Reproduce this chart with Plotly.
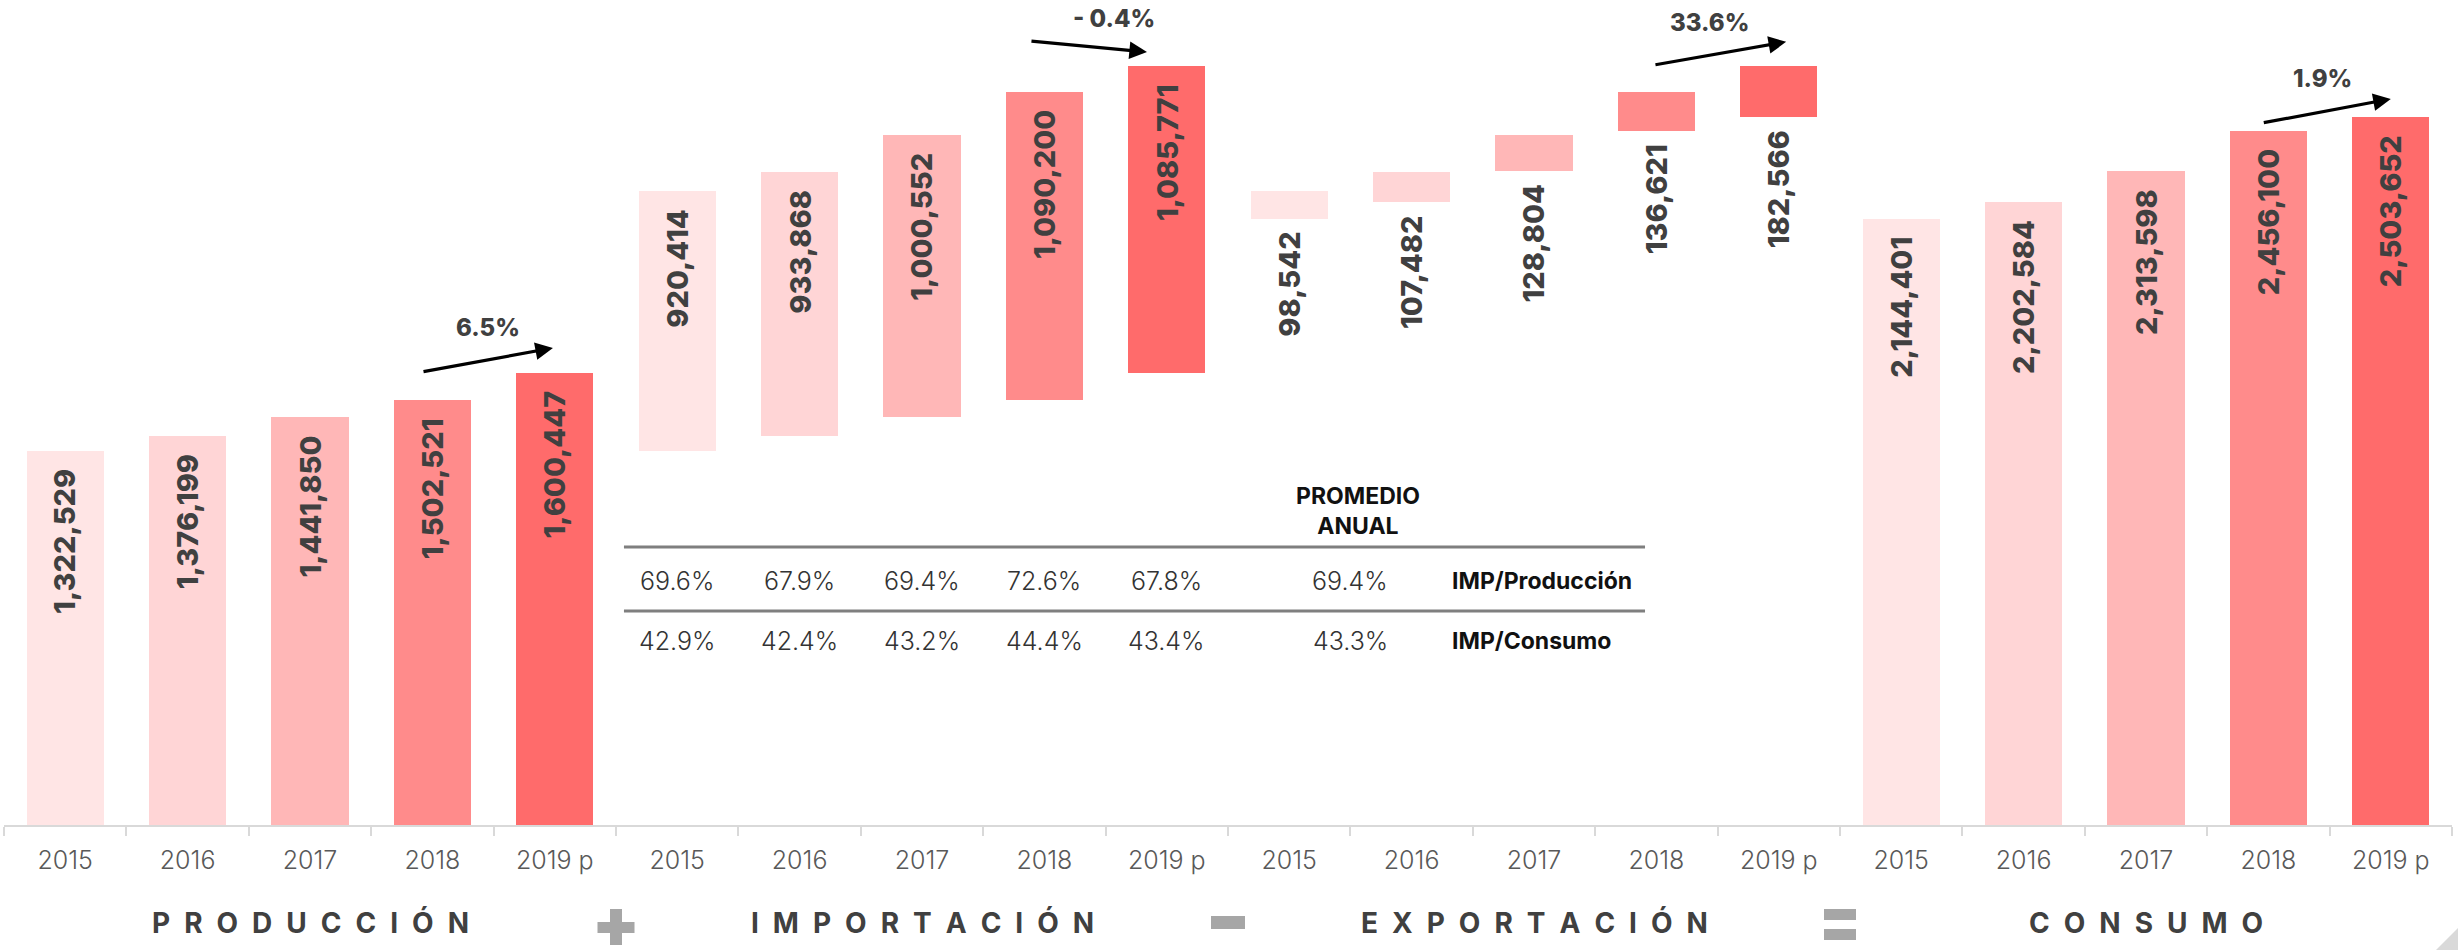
import plotly.graph_objects as go

# ---- data -----------------------------------------------------------------
years = ["2015", "2016", "2017", "2018", "2019 p"]
produccion = [1322529, 1376199, 1441850, 1502521, 1600447]
importacion = [920414, 933868, 1000552, 1090200, 1085771]
exportacion = [98542, 107482, 128804, 136621, 182566]
consumo = [2144401, 2202584, 2313598, 2456100, 2503652]

growth_labels = ["6.5%", "- 0.4%", "33.6%", "1.9%"]
group_titles = ["PRODUCCIÓN", "IMPORTACIÓN", "EXPORTACIÓN", "CONSUMO"]

imp_produccion = ["69.6%", "67.9%", "69.4%", "72.6%", "67.8%"]
imp_consumo = ["42.9%", "42.4%", "43.2%", "44.4%", "43.4%"]
promedio = ["69.4%", "43.3%"]
row_labels = ["IMP/Producción", "IMP/Consumo"]

# ---- styling ----------------------------------------------------------------
W, H = 2458, 950
M_L, M_R, M_T, M_B = 4, 6, 0, 125
PLOT_H = H - M_T - M_B
YMAX = 2.919e6
shades = ["#FFE5E5", "#FFD5D6", "#FFB7B7", "#FF8B8B", "#FF6B6B"]
DARK = "#404040"
FONT = "Inter, 'Open Sans', sans-serif"
BAR_W = 0.63
n = len(years)


def paper_y(px):
    """Vertical pixel position (from top of page) -> paper coordinate."""
    return (M_T + PLOT_H - px) / PLOT_H


def spaced(word):
    """Wide tracking for the block titles."""
    return "\u2002".join(word)


xs_prod = list(range(0, n))
xs_imp = list(range(n, 2 * n))
xs_exp = list(range(2 * n, 3 * n))
xs_con = list(range(3 * n, 4 * n))

gross = [p + i for p, i in zip(produccion, importacion)]
exp_base = [g - e for g, e in zip(gross, exportacion)]

fig = go.Figure()
fig.add_bar(x=xs_prod, y=produccion, base=[0] * n, width=BAR_W,
            marker=dict(color=shades, line=dict(width=0)))
fig.add_bar(x=xs_imp, y=importacion, base=produccion, width=BAR_W,
            marker=dict(color=shades, line=dict(width=0)))
fig.add_bar(x=xs_exp, y=exportacion, base=exp_base, width=BAR_W,
            marker=dict(color=shades, line=dict(width=0)))
fig.add_bar(x=xs_con, y=consumo, base=[0] * n, width=BAR_W,
            marker=dict(color=shades, line=dict(width=0)))

annotations = []
value_font = dict(family=FONT, size=29, color=DARK, weight=800)

# value labels inside the top of production, import and consumption bars
for xs, tops, vals in [(xs_prod, produccion, produccion),
                       (xs_imp, gross, importacion),
                       (xs_con, consumo, consumo)]:
    for x, top, v in zip(xs, tops, vals):
        annotations.append(dict(x=x, y=top, xref="x", yref="y",
                                text=f"{v:,}", textangle=-90, showarrow=False,
                                yanchor="top", xanchor="center", yshift=-16,
                                font=value_font))
# export labels hang below their bars
for x, b, v in zip(xs_exp, exp_base, exportacion):
    annotations.append(dict(x=x, y=b, xref="x", yref="y", text=f"{v:,}",
                            textangle=-90, showarrow=False, yanchor="top",
                            xanchor="center", yshift=-11, font=value_font))

# growth arrows between the last two years of each block
arrow_geom = [
    # tail x, tail y, tip x, tip y, label x, label y
    (2.915, 1.603e6, 3.985, 1.688e6, 3.454, 1.762e6),
    (7.882, 2.774e6, 8.838, 2.735e6, 8.569, 2.852e6),
    (12.98, 2.689e6, 14.06, 2.771e6, 13.43, 2.841e6),
    (17.95, 2.484e6, 19.00, 2.569e6, 18.44, 2.640e6),
]
for (tx, ty, hx, hy, lx, ly), lab in zip(arrow_geom, growth_labels):
    annotations.append(dict(x=hx, y=hy, ax=tx, ay=ty, xref="x", yref="y",
                            axref="x", ayref="y", text="", showarrow=True,
                            arrowhead=2, arrowsize=1.1, arrowwidth=3.2,
                            arrowcolor="#000000"))
    annotations.append(dict(x=lx, y=ly, xref="x", yref="y", text=lab,
                            showarrow=False, yanchor="middle",
                            font=dict(family=FONT, size=24, color=DARK,
                                      weight=800)))

# block titles under the axis
for k, title in enumerate(group_titles):
    annotations.append(dict(x=k * n + (n - 1) / 2, y=paper_y(923), xref="x",
                            yref="paper", text=spaced(title), showarrow=False,
                            xanchor="center", yanchor="middle",
                            font=dict(family=FONT, size=28, color=DARK,
                                      weight="bold")))

# ratio table
table_font = dict(family=FONT, size=25, color="#333333", weight=300)
label_font = dict(family=FONT, size=23, color="#111111", weight="bold")
for row, (vals, avg, lab, ypx) in enumerate(
        zip([imp_produccion, imp_consumo], promedio, row_labels, [581, 641])):
    for x, v in zip(xs_imp, vals):
        annotations.append(dict(x=x, y=paper_y(ypx), xref="x", yref="paper",
                                text=v, showarrow=False, xanchor="center",
                                yanchor="middle", font=table_font))
    annotations.append(dict(x=10.5, y=paper_y(ypx), xref="x", yref="paper",
                            text=avg, showarrow=False, xanchor="center",
                            yanchor="middle", font=table_font))
    annotations.append(dict(x=11.31, y=paper_y(ypx), xref="x", yref="paper",
                            text=lab, showarrow=False, xanchor="left",
                            yanchor="middle", font=label_font))
annotations.append(dict(x=10.56, y=paper_y(511), xref="x", yref="paper",
                        text="PROMEDIO<br>ANUAL", showarrow=False,
                        xanchor="center", yanchor="middle", font=label_font))

shapes = []
for ypx in (547, 611):
    shapes.append(dict(type="line", xref="x", yref="paper", x0=4.565,
                       x1=12.907, y0=paper_y(ypx), y1=paper_y(ypx),
                       line=dict(color="#7F7F7F", width=3)))

# operator symbols between blocks: +, -, =
SYM = "#A6A6A6"


def sym_rect(xc, x0, x1, y0, y1):
    return dict(type="rect", xref="x", xsizemode="pixel", xanchor=xc,
                x0=x0, x1=x1, yref="paper", y0=paper_y(y1), y1=paper_y(y0),
                fillcolor=SYM, line=dict(width=0))


shapes += [
    sym_rect(4.5, -6, 6, 909, 945),
    sym_rect(4.5, -18.5, 18.5, 922, 933),
    sym_rect(9.5, -17, 17, 916, 929),
    sym_rect(14.5, -16, 16, 909, 920),
    sym_rect(14.5, -16, 16, 929, 940),
]
# slide corner accent
shapes.append(dict(type="path", xref="paper", yref="paper",
                   path=f"M {(2434 - M_L) / (W - M_L - M_R)},{paper_y(952)} "
                        f"L {(2462 - M_L) / (W - M_L - M_R)},{paper_y(924)} "
                        f"L {(2462 - M_L) / (W - M_L - M_R)},{paper_y(952)} Z",
                   fillcolor="#D9D9D9", line=dict(width=0)))

fig.update_layout(
    width=W, height=H,
    margin=dict(l=M_L, r=M_R, t=M_T, b=M_B),
    paper_bgcolor="white", plot_bgcolor="white",
    showlegend=False, barmode="overlay", bargap=0,
    annotations=annotations, shapes=shapes,
    xaxis=dict(range=[-0.5, 4 * n - 0.5], tickmode="array",
               tickvals=list(range(4 * n)), ticktext=years * 4,
               tickfont=dict(family=FONT, size=25, color="#595959", weight=300),
               ticks="", ticklabelstandoff=12,
               showline=True, linecolor="#D9D9D9", linewidth=2,
               showgrid=False, zeroline=False,
               minor=dict(tickmode="array",
                          tickvals=[i - 0.5 for i in range(4 * n + 1)],
                          ticks="outside", ticklen=9, tickwidth=2,
                          tickcolor="#D9D9D9", showgrid=False)),
    yaxis=dict(range=[0, YMAX], visible=False, showgrid=False),
)

fig.write_html("out.html")
